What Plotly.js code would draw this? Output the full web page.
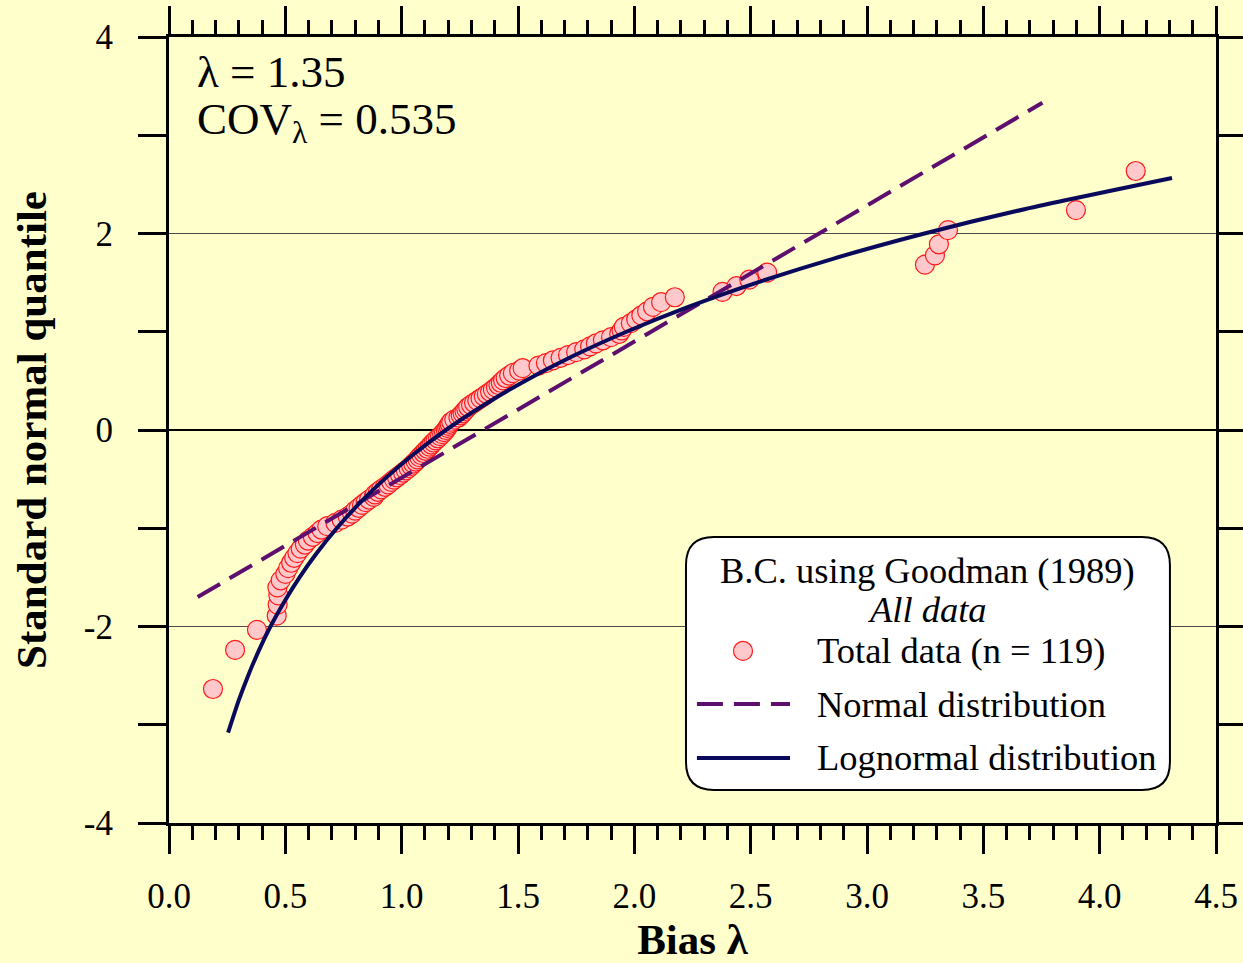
<!DOCTYPE html>
<html>
<head>
<meta charset="utf-8">
<script src="https://cdn.plot.ly/plotly-3.0.1.min.js"></script>
<style>
  html, body { margin: 0; padding: 0; background: #FFFFCC; }
  #chart { width: 1243px; height: 963px; }
</style>
</head>
<body>
<div id="chart"></div>
<script>
// Standard normal quantiles of the ranked bias values (n = 119)
const quantileZ = [
  -2.636, -2.238, -2.034, -1.890, -1.777, -1.683, -1.602, -1.530, -1.465, -1.406,
  -1.351, -1.301, -1.253, -1.208, -1.166, -1.125, -1.087, -1.049, -1.013, -0.979,
  -0.945, -0.913, -0.881, -0.851, -0.821, -0.792, -0.763, -0.735, -0.708, -0.681,
  -0.655, -0.629, -0.604, -0.578, -0.554, -0.529, -0.505, -0.481, -0.458, -0.434,
  -0.411, -0.389, -0.366, -0.343, -0.321, -0.299, -0.277, -0.256, -0.234, -0.212,
  -0.191, -0.170, -0.148, -0.127, -0.106, -0.084, -0.063, -0.042, -0.021, 0.000,
  0.021, 0.042, 0.063, 0.084, 0.106, 0.127, 0.148, 0.170, 0.191, 0.212,
  0.234, 0.256, 0.277, 0.299, 0.321, 0.343, 0.366, 0.389, 0.411, 0.434,
  0.458, 0.481, 0.505, 0.529, 0.554, 0.578, 0.604, 0.629, 0.655, 0.681,
  0.708, 0.735, 0.763, 0.792, 0.821, 0.851, 0.881, 0.913, 0.945, 0.979,
  1.013, 1.049, 1.087, 1.125, 1.166, 1.208, 1.253, 1.301, 1.351, 1.406,
  1.465, 1.530, 1.602, 1.683, 1.777, 1.890, 2.034, 2.238, 2.636
];

// Ranked bias values λ (measured / predicted capacity)
const biasLambda = [
  0.189, 0.284, 0.378, 0.463, 0.467, 0.470, 0.466, 0.480, 0.500, 0.512,
  0.525, 0.538, 0.552, 0.566, 0.584, 0.597, 0.618, 0.638, 0.655, 0.680,
  0.715, 0.742, 0.768, 0.787, 0.800, 0.815, 0.830, 0.845, 0.860, 0.880,
  0.885, 0.898, 0.912, 0.928, 0.942, 0.955, 0.967, 0.980, 0.993, 1.006,
  1.018, 1.030, 1.041, 1.050, 1.060, 1.068, 1.076, 1.085, 1.094, 1.102,
  1.111, 1.120, 1.128, 1.137, 1.146, 1.156, 1.165, 1.174, 1.182, 1.190,
  1.196, 1.201, 1.206, 1.213, 1.226, 1.244, 1.254, 1.262, 1.270, 1.278,
  1.286, 1.298, 1.311, 1.325, 1.339, 1.353, 1.366, 1.380, 1.392, 1.405,
  1.416, 1.426, 1.436, 1.447, 1.462, 1.478, 1.505, 1.520, 1.588, 1.620,
  1.650, 1.683, 1.715, 1.750, 1.785, 1.810, 1.835, 1.865, 1.900, 1.935,
  1.945, 1.955, 1.985, 2.008, 2.030, 2.055, 2.080, 2.115, 2.174, 2.379,
  2.439, 2.494, 2.571, 3.249, 3.292, 3.309, 3.348, 3.898, 4.155
];

// Fitted normal distribution (straight line on the quantile plot)
const normalLambda = [0.123, 3.754];
const normalZ = [-1.70, 3.33];

// Fitted lognormal distribution
const lognormalLambda = [
  0.254, 0.300, 0.340, 0.385, 0.436, 0.495, 0.561, 0.636, 0.721, 0.817,
  0.926, 1.050, 1.190, 1.350, 1.530, 1.734, 1.966, 2.229, 2.527, 2.864,
  3.247, 3.681, 4.311
];
const lognormalZ = [
  -3.08, -2.75, -2.50, -2.25, -2.00, -1.75, -1.50, -1.25, -1.00, -0.75,
  -0.50, -0.25, 0.00, 0.25, 0.50, 0.75, 1.00, 1.25, 1.50, 1.75,
  2.00, 2.25, 2.565
];

// Axis ticks
const xTickVals = [0, 0.5, 1.0, 1.5, 2.0, 2.5, 3.0, 3.5, 4.0, 4.5];
const xTickText = ['0.0', '0.5', '1.0', '1.5', '2.0', '2.5', '3.0', '3.5', '4.0', '4.5'];
const yTickVals = [-4, -2, 0, 2, 4];
const yTickText = ['-4', '-2', '0', '2', '4'];

// Legend entries
const legendTitle = 'B.C. using Goodman (1989)';
const legendSubtitle = '<i>All data</i>';
const legendLabels = ['Total data (n = 119)', 'Normal distribution', 'Lognormal distribution'];

const FONT = '"Liberation Serif", "Times New Roman", Times, serif';
const NORMAL_COLOR = '#5E0F6E';
const LOGN_COLOR = '#0A0A5C';
const DASH = '26px,11px';
const MARKER_FILL = '#FFC9CB';
const MARKER_EDGE = '#FF1A1A';

const traces = [
  {
    x: biasLambda, y: quantileZ, type: 'scatter', mode: 'markers',
    name: legendLabels[0],
    marker: { size: 19, color: MARKER_FILL, line: { color: MARKER_EDGE, width: 1.2 } },
    cliponaxis: false
  },
  {
    x: normalLambda, y: normalZ, type: 'scatter', mode: 'lines',
    name: legendLabels[1],
    line: { color: NORMAL_COLOR, width: 4, dash: DASH }
  },
  {
    x: lognormalLambda, y: lognormalZ, type: 'scatter', mode: 'lines',
    name: legendLabels[2],
    line: { color: LOGN_COLOR, width: 4, shape: 'spline', smoothing: 0.6 }
  }
];

// Legend box geometry in data units
const box = { x0: 2.222, x1: 4.302, y0: -3.664, y1: -1.089, rx: 0.12, ry: 0.285 };
const boxPath =
  'M' + (box.x0 + box.rx) + ',' + box.y1 +
  ' L' + (box.x1 - box.rx) + ',' + box.y1 +
  ' Q' + box.x1 + ',' + box.y1 + ' ' + box.x1 + ',' + (box.y1 - box.ry) +
  ' L' + box.x1 + ',' + (box.y0 + box.ry) +
  ' Q' + box.x1 + ',' + box.y0 + ' ' + (box.x1 - box.rx) + ',' + box.y0 +
  ' L' + (box.x0 + box.rx) + ',' + box.y0 +
  ' Q' + box.x0 + ',' + box.y0 + ' ' + box.x0 + ',' + (box.y0 + box.ry) +
  ' L' + box.x0 + ',' + (box.y1 - box.ry) +
  ' Q' + box.x0 + ',' + box.y1 + ' ' + (box.x0 + box.rx) + ',' + box.y1 + ' Z';

const symX0 = 2.269, symX1 = 2.669, symXc = 2.467, textX = 2.777, titleX = 3.262;
const rowY = [-2.249, -2.789, -3.338];

const shapes = [
  // horizontal reference lines at z = ±2
  { type: 'line', xref: 'paper', x0: 0, x1: 1, yref: 'y', y0: 2, y1: 2,
    line: { color: '#4A4A4A', width: 1 }, layer: 'below' },
  { type: 'line', xref: 'paper', x0: 0, x1: 1, yref: 'y', y0: -2, y1: -2,
    line: { color: '#4A4A4A', width: 1 }, layer: 'below' },
  // legend frame
  { type: 'path', xref: 'x', yref: 'y', path: boxPath,
    fillcolor: '#FFFFFF', line: { color: '#000000', width: 2 }, layer: 'above' },
  // legend symbols
  { type: 'circle', xref: 'x', yref: 'y', xsizemode: 'pixel', ysizemode: 'pixel',
    xanchor: symXc, yanchor: rowY[0], x0: -9.5, x1: 9.5, y0: -9.5, y1: 9.5,
    fillcolor: MARKER_FILL, line: { color: MARKER_EDGE, width: 1.2 }, layer: 'above' },
  { type: 'line', xref: 'x', yref: 'y', x0: symX0, x1: symX1, y0: rowY[1], y1: rowY[1],
    line: { color: NORMAL_COLOR, width: 4, dash: DASH }, layer: 'above' },
  { type: 'line', xref: 'x', yref: 'y', x0: symX0, x1: symX1, y0: rowY[2], y1: rowY[2],
    line: { color: LOGN_COLOR, width: 4 }, layer: 'above' }
];

const annFont = { family: FONT, size: 36.5, color: '#000000' };
const statFont = { family: FONT, size: 45, color: '#000000' };
const annotations = [
  { xref: 'x', yref: 'y', x: 0.11, y: 3.644, xanchor: 'left', yanchor: 'middle',
    text: 'λ = 1.35', showarrow: false, font: statFont },
  { xref: 'x', yref: 'y', x: 0.11, y: 3.135, xanchor: 'left', yanchor: 'middle',
    text: 'COV<sub>λ</sub> = 0.535', showarrow: false, font: statFont },
  { xref: 'x', yref: 'y', x: titleX, y: -1.425, xanchor: 'center', yanchor: 'middle',
    text: legendTitle, showarrow: false, font: annFont },
  { xref: 'x', yref: 'y', x: titleX, y: -1.832, xanchor: 'center', yanchor: 'middle',
    text: legendSubtitle, showarrow: false, font: annFont },
  { xref: 'x', yref: 'y', x: textX, y: rowY[0], xanchor: 'left', yanchor: 'middle',
    text: legendLabels[0], showarrow: false, font: annFont },
  { xref: 'x', yref: 'y', x: textX, y: rowY[1], xanchor: 'left', yanchor: 'middle',
    text: legendLabels[1], showarrow: false, font: annFont },
  { xref: 'x', yref: 'y', x: textX, y: rowY[2], xanchor: 'left', yanchor: 'middle',
    text: legendLabels[2], showarrow: false, font: annFont }
];

const axisCommon = {
  showline: true, linecolor: '#000000', linewidth: 3, mirror: 'ticks',
  ticks: 'outside', ticklen: 28, tickwidth: 3, tickcolor: '#000000',
  showgrid: false, tickfont: { family: FONT, size: 35, color: '#000000' }
};

const layout = {
  width: 1243, height: 963,
  paper_bgcolor: '#FFFFCC', plot_bgcolor: '#FFFFCC',
  margin: { l: 169, r: 27, t: 37, b: 140, pad: 0 },
  showlegend: false,
  font: { family: FONT, color: '#000000' },
  xaxis: Object.assign({}, axisCommon, {
    range: [0, 4.5], tickmode: 'array', tickvals: xTickVals, ticktext: xTickText,
    zeroline: false, ticklabelstandoff: 12,
    minor: { tickmode: 'linear', tick0: 0, dtick: 0.1, ticks: 'outside', ticklen: 14,
             tickwidth: 3, tickcolor: '#000000', showgrid: false },
    title: { text: '<b>Bias λ</b>', font: { family: FONT, size: 43, color: '#000' }, standoff: 10 }
  }),
  yaxis: Object.assign({}, axisCommon, {
    range: [-4, 4], tickmode: 'array', tickvals: yTickVals, ticktext: yTickText,
    zeroline: true, zerolinecolor: '#000000', zerolinewidth: 2.5, ticklabelstandoff: 18,
    minor: { tickmode: 'linear', tick0: 0, dtick: 1, ticks: 'outside', ticklen: 28,
             tickwidth: 3, tickcolor: '#000000', showgrid: false },
    title: { text: '<b>Standard normal quantile</b>', font: { family: FONT, size: 43, color: '#000' }, standoff: 24 }
  }),
  shapes: shapes,
  annotations: annotations
};

Plotly.newPlot('chart', traces, layout, { displayModeBar: false, staticPlot: true });
</script>
</body>
</html>
